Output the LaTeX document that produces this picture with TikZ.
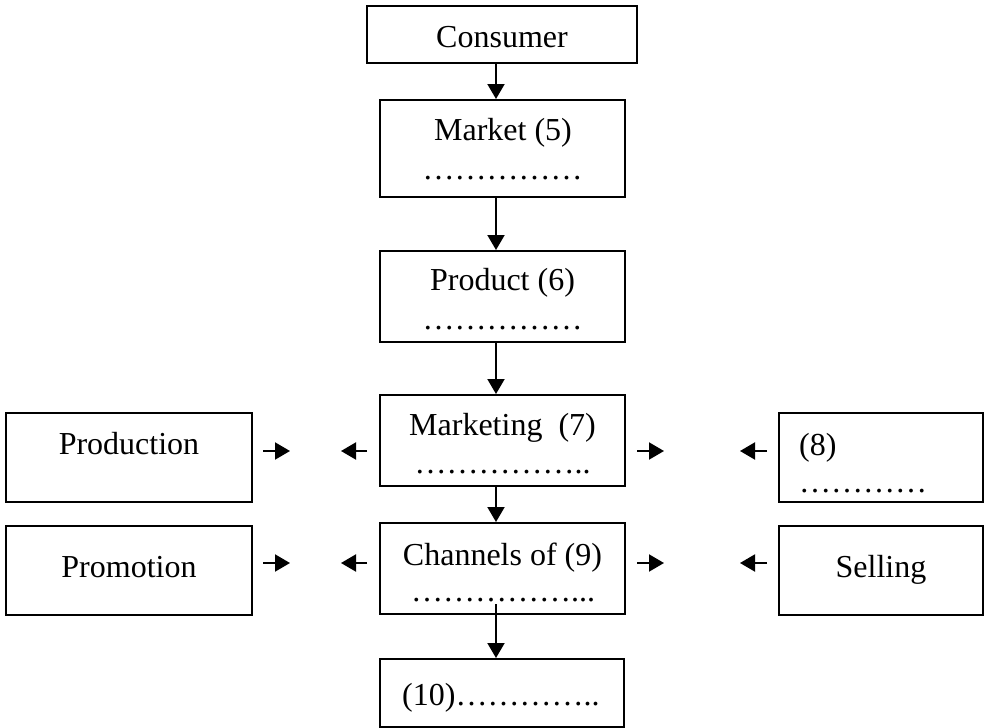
\documentclass[tikz,border=0pt]{standalone}
\usepackage{fontspec}
\setmainfont{Liberation Serif}
\usetikzlibrary{arrows.meta}
\begin{document}
\begin{tikzpicture}[x=1pt,y=-1pt,
  box/.style={draw, line width=2pt, rectangle, inner sep=0pt},
  txt/.style={inner sep=0pt, anchor=base, font=\fontsize{32}{38}\selectfont},
  txtl/.style={txt, anchor=base west},
  arr/.style={line width=2pt, -{Triangle[length=15pt,width=17pt]}}]
\useasboundingbox (0,0) rectangle (985,728);
% boxes
\node[box, minimum width=270pt, minimum height=57pt] (consumer) at (502,34.5) {};
\node[box, minimum width=245pt, minimum height=97pt] (market) at (502.5,148.5) {};
\node[box, minimum width=245pt, minimum height=91pt] (product) at (502.5,296.5) {};
\node[box, minimum width=245pt, minimum height=91pt] (marketing) at (502.5,440.5) {};
\node[box, minimum width=245pt, minimum height=91pt] (channels) at (502.5,568.5) {};
\node[box, minimum width=244pt, minimum height=68pt] (ten) at (502,693) {};
\node[box, minimum width=246pt, minimum height=89pt] (production) at (129,457.5) {};
\node[box, minimum width=246pt, minimum height=89pt] (promotion) at (129,570.5) {};
\node[box, minimum width=204pt, minimum height=89pt] (eight) at (881,457.5) {};
\node[box, minimum width=204pt, minimum height=89pt] (selling) at (881,570.5) {};
% texts
\node[txt] (tconsumer) at (502,47) {Consumer};
\node[txt] (tmarket) at (503,140) {Market (5)};
\node[txt] (dmarket) at (502.5,179) {……………};
\node[txt] (tproduct) at (502.5,290) {Product (6)};
\node[txt] (dproduct) at (502.5,329) {……………};
\node[txt] (tmarketing) at (502.5,435) {Marketing\ \ (7)};
\node[txt] (dmarketing) at (502.5,473) {……………..};
\node[txt] (tchannels) at (502.5,565) {Channels of (9)};
\node[txt] (dchannels) at (503,601) {……………...};
\node[txtl] (tten) at (402,705) {(10)…………..};
\node[txt] (tproduction) at (129,454) {Production};
\node[txt] (tpromotion) at (129,577) {Promotion};
\node[txtl] (teight) at (799,455) {(8)};
\node[txtl] (deight) at (799,492) {…………};
\node[txt] (tselling) at (881,577) {Selling};
% vertical arrows
\coordinate (ax) at (496,0);
\draw[arr] (consumer.south -| ax) -- (market.north -| ax);
\draw[arr] ([yshift=2pt]market.south -| ax) -- (product.north -| ax);
\draw[arr] (product.south -| ax) -- (marketing.north -| ax);
\draw[arr] (marketing.south -| ax) -- (channels.north -| ax);
\draw[arr] ([yshift=11pt]channels.south -| ax) -- (ten.north -| ax);
% horizontal arrows
\coordinate (a1s) at (263,451); \coordinate (a1e) at (290,451);
\coordinate (a2s) at (367,451); \coordinate (a2e) at (341,451);
\coordinate (a3s) at (637,451); \coordinate (a3e) at (664,451);
\coordinate (a4s) at (767,451); \coordinate (a4e) at (740,451);
\coordinate (b1s) at (263,563); \coordinate (b1e) at (290,563);
\coordinate (b2s) at (367,563); \coordinate (b2e) at (341,563);
\coordinate (b3s) at (637,563); \coordinate (b3e) at (664,563);
\coordinate (b4s) at (767,563); \coordinate (b4e) at (740,563);
\foreach \p in {a1,a2,a3,a4,b1,b2,b3,b4} \draw[arr] (\p s) -- (\p e);
\end{tikzpicture}
\end{document}
